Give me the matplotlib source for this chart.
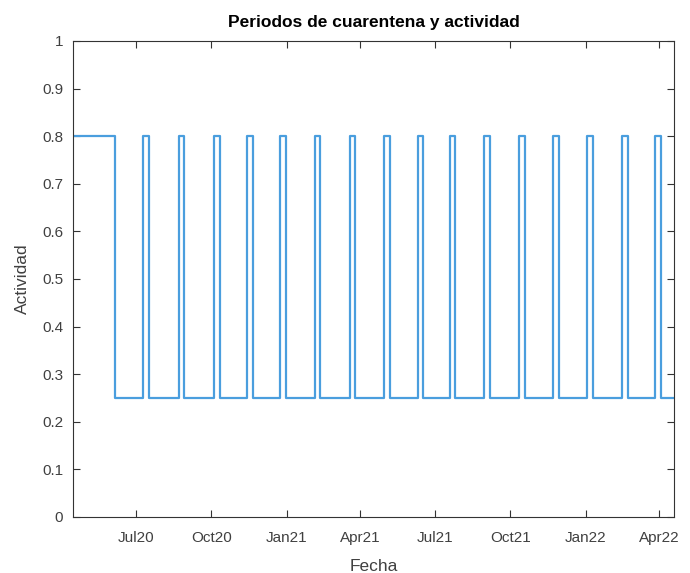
import matplotlib
matplotlib.use("Agg")
import matplotlib.pyplot as plt
import pandas as pd

plt.rcParams['font.family'] = ['Liberation Sans', 'DejaVu Sans']

# Step changes of activity level (date at which the level starts)
change_dates = [
    "2020-04-15", "2020-06-05",
    "2020-07-10", "2020-07-17",
    "2020-08-22", "2020-08-29",
    "2020-10-04", "2020-10-11",
    "2020-11-14", "2020-11-21",
    "2020-12-24", "2020-12-31",
    "2021-02-04", "2021-02-11",
    "2021-03-19", "2021-03-26",
    "2021-04-30", "2021-05-07",
    "2021-06-10", "2021-06-17",
    "2021-07-19", "2021-07-26",
    "2021-08-30", "2021-09-06",
    "2021-10-12", "2021-10-19",
    "2021-11-22", "2021-11-29",
    "2022-01-03", "2022-01-10",
    "2022-02-15", "2022-02-22",
    "2022-03-27", "2022-04-03",
]
levels = [
    0.8, 0.25,
    0.8, 0.25,
    0.8, 0.25,
    0.8, 0.25,
    0.8, 0.25,
    0.8, 0.25,
    0.8, 0.25,
    0.8, 0.25,
    0.8, 0.25,
    0.8, 0.25,
    0.8, 0.25,
    0.8, 0.25,
    0.8, 0.25,
    0.8, 0.25,
    0.8, 0.25,
    0.8, 0.25,
    0.8, 0.25,
]
end_date = "2022-04-19"

tick_dates = ["2020-07-01", "2020-10-01", "2021-01-01", "2021-04-01",
              "2021-07-01", "2021-10-01", "2022-01-01", "2022-04-01"]
tick_labels = ["Jul20", "Oct20", "Jan21", "Apr21", "Jul21", "Oct21", "Jan22", "Apr22"]
y_ticks = [0, 0.1, 0.2, 0.3, 0.4, 0.5, 0.6, 0.7, 0.8, 0.9, 1]
y_tick_labels = ["0", "0.1", "0.2", "0.3", "0.4", "0.5", "0.6", "0.7", "0.8", "0.9", "1"]

x = pd.to_datetime(change_dates + [end_date])
y = levels + [levels[-1]]

fig = plt.figure(figsize=(6.9, 5.73), dpi=100)
ax = fig.add_axes([73/690, 56/573, (674-73)/690, (517-41)/573])

ax.plot(x, y, drawstyle='steps-post', color='#4a9ede', lw=1.6, solid_joinstyle='round')

ax.set_xlim(pd.Timestamp(change_dates[0]), pd.Timestamp(end_date))
ax.set_ylim(0, 1)
ax.set_xticks(pd.to_datetime(tick_dates))
ax.set_xticklabels(tick_labels)
ax.set_yticks(y_ticks)
ax.set_yticklabels(y_tick_labels)

axcol = '#333333'
for s in ax.spines.values():
    s.set_color(axcol)
    s.set_linewidth(0.8)
ax.tick_params(direction='in', top=True, right=True, length=5, width=0.8,
               color=axcol, labelcolor='#404040', labelsize=11)
ax.tick_params(axis='x', pad=10)
ax.tick_params(axis='y', pad=7)

ax.set_title("Periodos de cuarentena y actividad", fontsize=12.5, fontweight='bold', pad=10)
ax.set_xlabel("Fecha", fontsize=12.5, color='#404040', labelpad=10)
ax.set_ylabel("Actividad", fontsize=12.5, color='#404040', labelpad=9)

fig.savefig("out.png", dpi=100)
